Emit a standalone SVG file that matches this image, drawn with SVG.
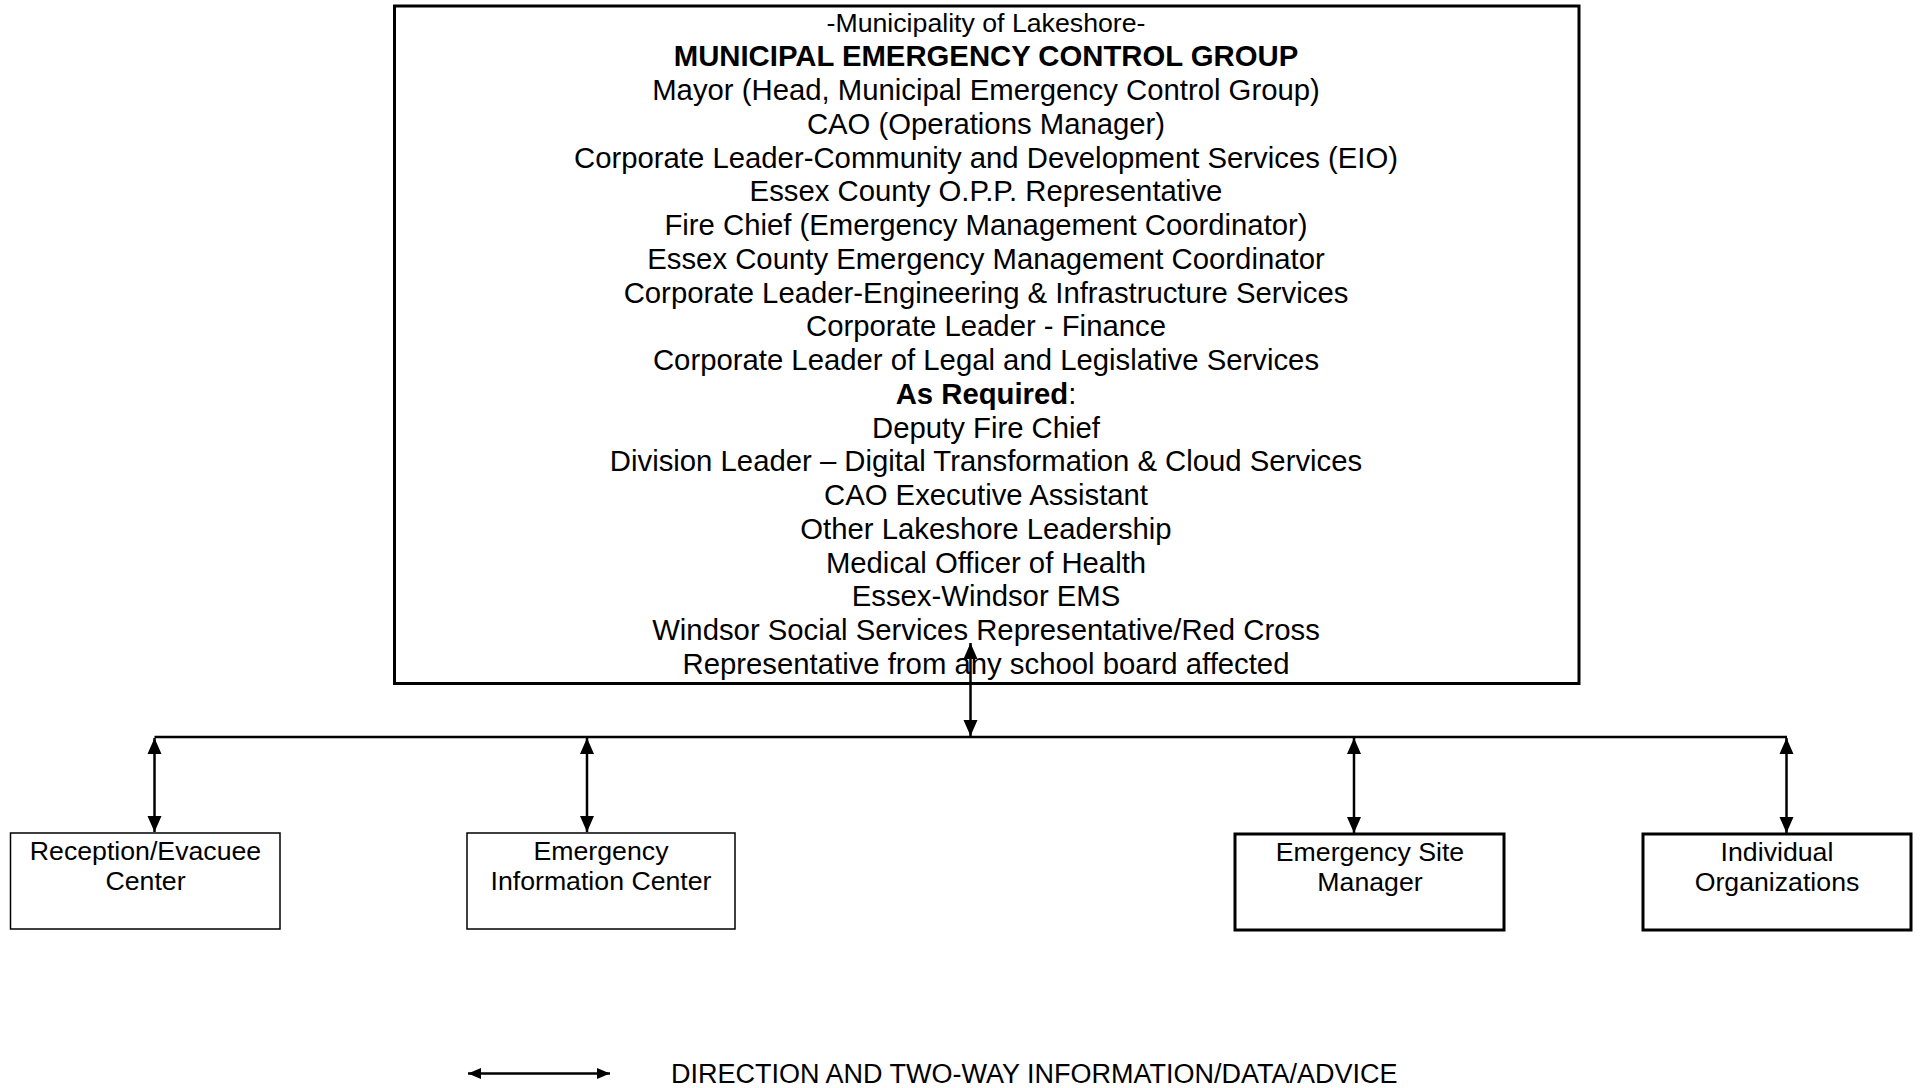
<svg xmlns="http://www.w3.org/2000/svg" width="1921" height="1088" viewBox="0 0 1921 1088">
<style>
text{font-family:"Liberation Sans",Arial,sans-serif;fill:#000;text-anchor:middle}
.m{font-size:29.3px}
.s{font-size:26.7px}
.b{font-weight:bold}
.thick{fill:#fff;stroke:#000;stroke-width:3}
.thin{fill:#fff;stroke:#000;stroke-width:1.5}
.con{stroke:#000;stroke-width:2.5;fill:none}
</style>
<defs>
<marker id="ah" markerUnits="userSpaceOnUse" markerWidth="18" markerHeight="16" viewBox="0 0 18 16" refX="16" refY="8" orient="auto-start-reverse">
<path d="M0,1 L16,8 L0,15 Z" fill="#000"/>
</marker>
<marker id="ahs" markerUnits="userSpaceOnUse" markerWidth="14" markerHeight="14" viewBox="0 0 14 14" refX="13" refY="7" orient="auto-start-reverse">
<path d="M0,1.5 L13,7 L0,12.5 Z" fill="#000"/>
</marker>
</defs>
<rect width="1921" height="1088" fill="#fff"/>
<g id="control-group">
<rect class="thick" x="394.5" y="6" width="1184.5" height="677.5"/>
<text class="s" x="986" y="32">-Municipality of Lakeshore-</text>
<text class="m b" x="986" y="65.5">MUNICIPAL EMERGENCY CONTROL GROUP</text>
<text class="m" x="986" y="100">Mayor (Head, Municipal Emergency Control Group)</text>
<text class="m" x="986" y="133.7">CAO (Operations Manager)</text>
<text class="m" x="986" y="167.5">Corporate Leader-Community and Development Services (EIO)</text>
<text class="m" x="986" y="201.2">Essex County O.P.P. Representative</text>
<text class="m" x="986" y="235">Fire Chief (Emergency Management Coordinator)</text>
<text class="m" x="986" y="268.7">Essex County Emergency Management Coordinator</text>
<text class="m" x="986" y="302.5">Corporate Leader-Engineering &amp; Infrastructure Services</text>
<text class="m" x="986" y="336.2">Corporate Leader - Finance</text>
<text class="m" x="986" y="370">Corporate Leader of Legal and Legislative Services</text>
<text class="m" x="986" y="403.7"><tspan class="b">As Required</tspan>:</text>
<text class="m" x="986" y="437.5">Deputy Fire Chief</text>
<text class="m" x="986" y="471.2">Division Leader – Digital Transformation &amp; Cloud Services</text>
<text class="m" x="986" y="505">CAO Executive Assistant</text>
<text class="m" x="986" y="538.7">Other Lakeshore Leadership</text>
<text class="m" x="986" y="572.5">Medical Officer of Health</text>
<text class="m" x="986" y="606.2">Essex-Windsor EMS</text>
<text class="m" x="986" y="640">Windsor Social Services Representative/Red Cross</text>
<text class="m" x="986" y="673.7">Representative from any school board affected</text>
</g>
<g id="reception">
<rect class="thin" x="10.5" y="833" width="269.5" height="96"/>
<text class="s" x="145.5" y="859.5">Reception/Evacuee</text>
<text class="s" x="145.5" y="890">Center</text>
</g>
<g id="info-center">
<rect class="thin" x="467" y="833" width="268" height="96"/>
<text class="s" x="601" y="859.5">Emergency</text>
<text class="s" x="601" y="890">Information Center</text>
</g>
<g id="site-manager">
<rect class="thick" x="1235" y="834" width="269" height="96"/>
<text class="s" x="1370" y="860.5">Emergency Site</text>
<text class="s" x="1370" y="891">Manager</text>
</g>
<g id="organizations">
<rect class="thick" x="1643" y="834" width="268" height="96"/>
<text class="s" x="1777" y="860.5">Individual</text>
<text class="s" x="1777" y="891">Organizations</text>
</g>
<g id="connectors">
<line class="con" x1="970.5" y1="643" x2="970.5" y2="736" marker-start="url(#ah)" marker-end="url(#ah)"/>
<line class="con" x1="154.5" y1="737" x2="1787" y2="737"/>
<line class="con" x1="154.5" y1="738" x2="154.5" y2="832" marker-start="url(#ah)" marker-end="url(#ah)"/>
<line class="con" x1="587" y1="738" x2="587" y2="832" marker-start="url(#ah)" marker-end="url(#ah)"/>
<line class="con" x1="1354" y1="738" x2="1354" y2="833" marker-start="url(#ah)" marker-end="url(#ah)"/>
<line class="con" x1="1786.5" y1="738" x2="1786.5" y2="833" marker-start="url(#ah)" marker-end="url(#ah)"/>
</g>
<g id="legend">
<line class="con" x1="468" y1="1073.5" x2="610" y2="1073.5" stroke-width="3" marker-start="url(#ahs)" marker-end="url(#ahs)"/>
<text class="s" x="671" y="1083" style="text-anchor:start;font-size:27px">DIRECTION AND TWO-WAY INFORMATION/DATA/ADVICE</text>
</g>
</svg>
